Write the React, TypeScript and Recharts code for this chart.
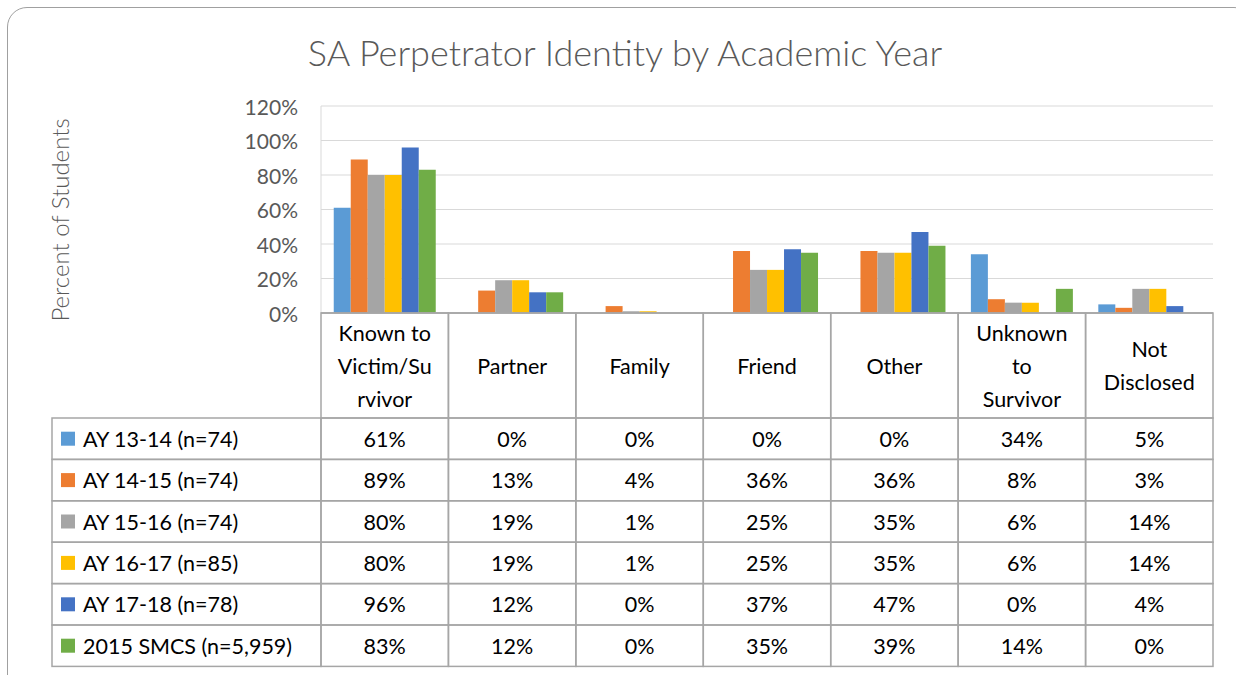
import React from "react";
import { BarChart, Bar, XAxis, YAxis, CartesianGrid, Label } from "recharts";

// header text of each category, split the way the table wraps it
const categoryLines = [
  ["Known to", "Victim/Su", "rvivor"],
  ["Partner"],
  ["Family"],
  ["Friend"],
  ["Other"],
  ["Unknown", "to", "Survivor"],
  ["Not", "Disclosed"],
];

const seriesNames = [
  "AY 13-14 (n=74)",
  "AY 14-15 (n=74)",
  "AY 15-16 (n=74)",
  "AY 16-17 (n=85)",
  "AY 17-18 (n=78)",
  "2015 SMCS (n=5,959)",
];
const seriesColors = ["#5B9BD5", "#ED7D31", "#A5A5A5", "#FFC000", "#4472C4", "#70AD47"];

const ay1314 = [61, 0, 0, 0, 0, 34, 5];
const ay1415 = [89, 13, 4, 36, 36, 8, 3];
const ay1516 = [80, 19, 1, 25, 35, 6, 14];
const ay1617 = [80, 19, 1, 25, 35, 6, 14];
const ay1718 = [96, 12, 0, 37, 47, 0, 4];
const smcs2015 = [83, 12, 0, 35, 39, 14, 0];
const seriesValues = [ay1314, ay1415, ay1516, ay1617, ay1718, smcs2015];

const yTicks = [0, 20, 40, 60, 80, 100, 120];

const data = categoryLines.map((lines, i) => {
  const row: Record<string, any> = { name: lines.join(" ") };
  seriesValues.forEach((vals, s) => {
    row["s" + s] = vals[i];
  });
  return row;
});

const FONT = "Lato, 'Open Sans', sans-serif";
const W = 1236;
const H = 675;
const PLOT_LEFT = 321;
const PLOT_RIGHT = 1213;
const PLOT_TOP = 106;
const PLOT_BOTTOM = 313;
const HEADER_H = 105;
const ROW_H = 41.4;
const TABLE_LEFT = 52;
const GRID = "#a6a6a6";
const TXT = 21.5;
const colW = (PLOT_RIGHT - PLOT_LEFT) / categoryLines.length;

const TableColumn = (props: any) => {
  const { x, index } = props;
  const left = x - colW / 2;
  const lines = categoryLines[index];
  const headMid = PLOT_BOTTOM + HEADER_H / 2;
  const bodyTop = PLOT_BOTTOM + HEADER_H;
  return (
    <g>
      <rect x={left} y={PLOT_BOTTOM} width={colW} height={HEADER_H} fill="none" stroke={GRID} strokeWidth={1.5} />
      {lines.map((t, k) => (
        <text
          key={k}
          x={x}
          y={headMid + (k - (lines.length - 1) / 2) * 33}
          textAnchor="middle"
          dominantBaseline="central"
          fontSize={TXT}
          fontFamily={FONT}
          fill="#000"
        >
          {t}
        </text>
      ))}
      {seriesValues.map((vals, s) => (
        <g key={s}>
          <rect x={left} y={bodyTop + s * ROW_H} width={colW} height={ROW_H} fill="none" stroke={GRID} strokeWidth={1.5} />
          <text
            x={x}
            y={bodyTop + s * ROW_H + ROW_H / 2}
            textAnchor="middle"
            dominantBaseline="central"
            fontSize={TXT}
            fontFamily={FONT}
            fill="#000"
          >
            {vals[index]}%
          </text>
        </g>
      ))}
      {index === 0 &&
        seriesNames.map((nm, s) => (
          <g key={"lg" + s}>
            <rect
              x={TABLE_LEFT}
              y={bodyTop + s * ROW_H}
              width={left - TABLE_LEFT}
              height={ROW_H}
              fill="none"
              stroke={GRID}
              strokeWidth={1.5}
            />
            <rect x={61} y={bodyTop + s * ROW_H + ROW_H / 2 - 7} width={14} height={14} fill={seriesColors[s]} />
            <text
              x={83}
              y={bodyTop + s * ROW_H + ROW_H / 2}
              dominantBaseline="central"
              fontSize={TXT}
              fontFamily={FONT}
              fill="#000"
            >
              {nm}
            </text>
          </g>
        ))}
    </g>
  );
};

const YTick = (props: any) => {
  const { y, payload } = props;
  return (
    <text x={PLOT_LEFT - 23} y={y} textAnchor="end" dominantBaseline="central" fontSize={21} fontFamily={FONT} fill="#595959">
      {payload.value}%
    </text>
  );
};

export default function App() {
  return (
    <div style={{ position: "absolute", left: 0, top: 0, width: W, height: H, overflow: "hidden", background: "#fff" }}>
      <div
        style={{
          position: "absolute",
          left: 7,
          top: 7,
          width: 1245,
          height: 690,
          border: "1.5px solid #a0a0a0",
          borderRadius: 20,
        }}
      />
      <div
        style={{
          position: "absolute",
          left: 0,
          top: 29,
          width: 1250,
          textAlign: "center",
          fontFamily: FONT,
          fontSize: 36,
          fontWeight: 300,
          color: "#595959",
          lineHeight: "46px",
        }}
      >
        SA Perpetrator Identity by Academic Year
      </div>
      <div style={{ position: "absolute", left: 0, top: 0 }}>
        <BarChart
          width={W}
          height={H}
          data={data}
          margin={{ top: PLOT_TOP, right: W - PLOT_RIGHT, bottom: H - PLOT_BOTTOM - HEADER_H - 6 * ROW_H, left: 0 }}
          barCategoryGap="10%"
          barGap={0}
        >
          <CartesianGrid vertical={false} stroke="#d9d9d9" strokeWidth={1.2} />
          <YAxis
            width={PLOT_LEFT}
            domain={[0, 120]}
            ticks={yTicks}
            tickLine={false}
            axisLine={{ stroke: "#d9d9d9" }}
            tick={<YTick />}
            interval={0}
          >
            <Label
              content={() => (
                <text
                  x={59}
                  y={220}
                  transform="rotate(-90 59 220)"
                  textAnchor="middle"
                  dominantBaseline="central"
                  fontSize={24}
                  fontFamily={FONT}
                  fontWeight={300}
                  fill="#595959"
                >
                  Percent of Students
                </text>
              )}
            />
          </YAxis>
          <XAxis
            dataKey="name"
            height={HEADER_H + 6 * ROW_H}
            tickLine={false}
            axisLine={{ stroke: GRID, strokeWidth: 1.5 }}
            tick={<TableColumn />}
            interval={0}
          />
          {seriesNames.map((nm, s) => (
            <Bar key={s} dataKey={"s" + s} name={nm} fill={seriesColors[s]} isAnimationActive={false} />
          ))}
        </BarChart>
      </div>
    </div>
  );
}
